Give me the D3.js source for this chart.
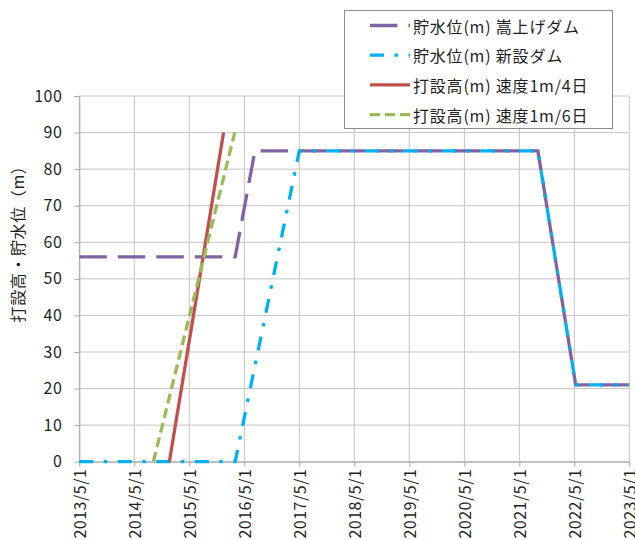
<!DOCTYPE html>
<html>
<head>
<meta charset="utf-8">
<script src="https://cdn.jsdelivr.net/npm/d3@7"></script>
<style>
  body { margin: 0; background: #fff; }
  svg { display: block; font-family: "Noto Sans CJK JP", "Noto Sans", sans-serif; }
</style>
</head>
<body>
<svg id="chart" width="635" height="540"></svg>
<script>
// Axis ticks
const xTickLabels = ["2013/5/1", "2014/5/1", "2015/5/1", "2016/5/1", "2017/5/1", "2018/5/1",
                     "2019/5/1", "2020/5/1", "2021/5/1", "2022/5/1", "2023/5/1"];
const yTicks = [0, 10, 20, 30, 40, 50, 60, 70, 80, 90, 100];
const yTitle = "打設高・貯水位（m）";

// Series names (legend order)
const seriesNames = ["貯水位(m) 嵩上げダム", "貯水位(m) 新設ダム", "打設高(m) 速度1m/4日", "打設高(m) 速度1m/6日"];

// 貯水位 嵩上げダム
const raisedDamDates = ["2013/5/1", "2016/3/1", "2016/7/10", "2021/9/1", "2022/5/10", "2023/5/1"];
const raisedDamLevel = [56, 56, 85, 85, 21, 21];

// 貯水位 新設ダム
const newDamDates = ["2013/5/1", "2016/3/1", "2017/5/1", "2021/9/1", "2022/5/10", "2023/5/1"];
const newDamLevel = [0, 0, 85, 85, 21, 21];

// 打設高 速度1m/4日
const pour4Dates = ["2014/12/20", "2015/12/15"];
const pour4Height = [0, 90];

// 打設高 速度1m/6日
const pour6Dates = ["2014/9/5", "2016/2/27"];
const pour6Height = [0, 90];

const parse = d3.timeParse("%Y/%m/%d");
const svg = d3.select("#chart");
const textColor = "#1f1f1f";

const x = d3.scaleTime()
  .domain([parse(xTickLabels[0]), parse(xTickLabels[xTickLabels.length - 1])])
  .range([79.3, 629.3]);
const y = d3.scaleLinear().domain([0, 100]).range([461.7, 96]);

// Gridlines
const grid = svg.append("g").attr("stroke", "#c4c4c4").attr("stroke-width", 1);
grid.selectAll("line.h").data(yTicks).join("line")
  .attr("x1", x.range()[0]).attr("x2", x.range()[1])
  .attr("y1", d => y(d)).attr("y2", d => y(d));
grid.selectAll("line.v").data(xTickLabels).join("line")
  .attr("x1", d => x(parse(d))).attr("x2", d => x(parse(d)))
  .attr("y1", y.range()[1]).attr("y2", y.range()[0]);

// Axes
const xAxis = svg.append("g")
  .attr("transform", `translate(0,${y(0)})`)
  .call(d3.axisBottom(x)
    .tickValues(xTickLabels.map(parse))
    .tickFormat((d, i) => xTickLabels[i])
    .tickSize(5).tickSizeOuter(0));
xAxis.selectAll("text")
  .attr("transform", "rotate(-90)")
  .attr("text-anchor", "end")
  .attr("x", -7).attr("y", 0).attr("dy", "0.4em");

const yAxis = svg.append("g")
  .attr("transform", `translate(${x.range()[0]},0)`)
  .call(d3.axisLeft(y).tickValues(yTicks).tickSize(5).tickSizeOuter(0).tickPadding(12));

[xAxis, yAxis].forEach(g => {
  g.select(".domain").attr("stroke", "#a6a6a6");
  g.selectAll(".tick line").attr("stroke", "#a6a6a6");
  g.selectAll("text").attr("fill", textColor).style("font-size", "16px")
    .style("letter-spacing", "0.5px")
    .style("font-family", '"Noto Sans CJK JP", "Noto Sans", sans-serif');
});

// Y-axis title
svg.append("text")
  .attr("transform", "translate(17,240) rotate(-90)")
  .attr("text-anchor", "middle")
  .attr("dominant-baseline", "central")
  .attr("fill", textColor)
  .style("font-size", "16px")
  .style("letter-spacing", "0.6px")
  .text(yTitle);

// Series
const toPoints = (dates, vals) => dates.map((d, i) => ({ date: parse(d), v: vals[i] }));
const series = [
  { name: seriesNames[0], pts: toPoints(raisedDamDates, raisedDamLevel), color: "#8064A2", dash: "27.5,11" },
  { name: seriesNames[1], pts: toPoints(newDamDates, newDamLevel), color: "#00B0F0", dash: "14,10.5,3.5,10.5" },
  { name: seriesNames[2], pts: toPoints(pour4Dates, pour4Height), color: "#C0504D", dash: null },
  { name: seriesNames[3], pts: toPoints(pour6Dates, pour6Height), color: "#9BBB59", dash: "10,5" }
];

const line = d3.line().x(d => x(d.date)).y(d => y(d.v));
svg.append("g").selectAll("path").data(series).join("path")
  .attr("d", d => line(d.pts))
  .attr("fill", "none")
  .attr("stroke", d => d.color)
  .attr("stroke-width", 3.3)
  .attr("stroke-linejoin", "round")
  .attr("stroke-dasharray", d => d.dash);

// Legend
const legend = svg.append("g");
legend.append("rect")
  .attr("x", 344.5).attr("y", 10.5).attr("width", 268).attr("height", 118)
  .attr("fill", "#fff").attr("stroke", "#8c8c8c").attr("stroke-width", 1);
const rows = legend.selectAll("g.row").data(series).join("g")
  .attr("transform", (d, i) => `translate(0,${25.5 + i * 29.7})`);
rows.append("line")
  .attr("x1", 370).attr("x2", 410).attr("y1", 0).attr("y2", 0)
  .attr("stroke", d => d.color).attr("stroke-width", 3.3)
  .attr("stroke-dasharray", d => d.dash);
rows.append("text")
  .attr("x", 413).attr("y", 0)
  .attr("dominant-baseline", "central")
  .attr("fill", textColor)
  .style("font-size", "16px")
  .style("letter-spacing", "0.8px")
  .text(d => d.name);
</script>
</body>
</html>
